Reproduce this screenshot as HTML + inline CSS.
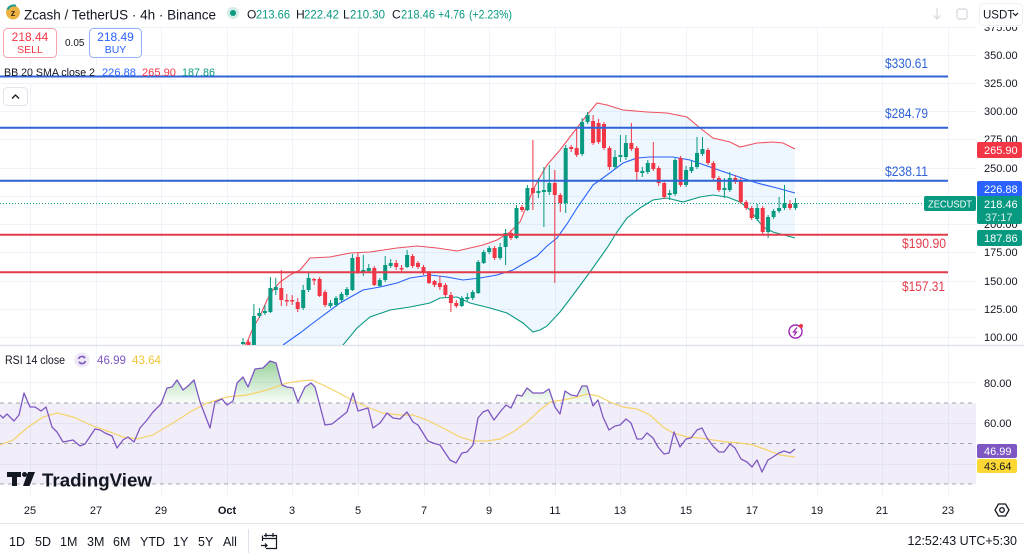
<!DOCTYPE html>
<html><head><meta charset="utf-8"><style>
html,body{margin:0;padding:0;background:#fff;}
svg{display:block;font-family:"Liberation Sans",sans-serif;}
</style></head><body>
<svg width="1024" height="558" viewBox="0 0 1024 558" xmlns="http://www.w3.org/2000/svg">
<defs>
<clipPath id="main"><rect x="0" y="0" width="976" height="345"/></clipPath>
<clipPath id="ob"><rect x="0" y="346" width="976" height="57"/></clipPath>
<linearGradient id="gg" gradientUnits="userSpaceOnUse" x1="0" y1="358" x2="0" y2="403">
<stop offset="0" stop-color="#4caf50" stop-opacity="0.6"/><stop offset="1" stop-color="#4caf50" stop-opacity="0.03"/></linearGradient>
</defs>
<rect width="1024" height="558" fill="#fff"/>

<!-- grid -->
<g stroke="#f0f3fa" stroke-width="1">
<path d="M30.5 26V497M96.5 26V497M161.5 26V497M227.5 26V497M292.5 26V497M358.5 26V497M424.5 26V497M489.5 26V497M555.5 26V497M620.5 26V497M686.5 26V497M752.5 26V497M817.5 26V497M882.5 26V497M948.5 26V497"/>
<path d="M0 27.5H976M0 55.5H976M0 83.5H976M0 111.5H976M0 139.5H976M0 168.5H976M0 196.5H976M0 224.5H976M0 252.5H976M0 281.5H976M0 309.5H976M0 337.5H976M0 382.5H976M0 423.5H976M0 464.5H976"/>
</g>

<!-- RSI band -->
<rect x="0" y="403" width="976" height="81" fill="#7e57c2" fill-opacity="0.1"/>
<g stroke="#a3a6af" stroke-width="1" stroke-dasharray="4 4">
<path d="M0 403H976M0 443.5H976M0 484H976"/>
</g>

<!-- pane separators -->
<path d="M0 345.5H1024" stroke="#e0e3eb" stroke-width="1.5"/>
<path d="M0 523.5H1024" stroke="#e0e3eb" stroke-width="1"/>

<g clip-path="url(#main)">
<polygon fill="#2196f3" fill-opacity="0.08" points="245,345 248,340 253,328 260,316 267,300 273,290 280,282 290,275 300,270 310,258 330,257 350,253 370,252 397,248 417,246 437,248 457,251 470,248 483,245 497,240 510,232 520,222 527,205 533,190 540,177 547,165 560,150 573,133 587,115 597,103 607,105 623,110 647,112 667,113 687,117 700,128 713,138 730,142 740,147 757,143 773,142 783,143 795,149 795,238 773,232 763,227 750,210 740,202 727,197 713,195 700,197 683,202 667,198 653,200 640,208 627,218 617,232 607,248 590,272 573,295 560,312 547,326 540,330 533,332 523,323 507,313 490,308 470,303 457,297 440,298 430,303 410,307 390,310 370,317 357,328 343,345 335,360 245,360"/>
<polyline fill="none" stroke="#f0505f" stroke-width="1.1" points="245,345 248,340 253,328 260,316 267,300 273,290 280,282 290,275 300,270 310,258 330,257 350,253 370,252 397,248 417,246 437,248 457,251 470,248 483,245 497,240 510,232 520,222 527,205 533,190 540,177 547,165 560,150 573,133 587,115 597,103 607,105 623,110 647,112 667,113 687,117 700,128 713,138 730,142 740,147 757,143 773,142 783,143 795,149"/>
<polyline fill="none" stroke="#2962ff" stroke-width="1.1" points="283,345 300,333 313,323 340,303 363,290 380,287 397,283 410,278 430,275 447,277 463,280 480,278 497,275 513,270 530,260 537,256 547,246 557,238 567,224 577,208 593,185 607,175 623,163 637,158 650,157 673,157 690,160 710,167 733,175 757,183 777,188 795,193"/>
<polyline fill="none" stroke="#089981" stroke-width="1.1" points="335,360 343,345 357,328 370,317 390,310 410,307 430,303 440,298 457,297 470,303 490,308 507,313 523,323 533,332 540,330 547,326 560,312 573,295 590,272 607,248 617,232 627,218 640,208 653,200 667,198 683,202 700,197 713,195 727,197 740,202 750,210 763,227 773,232 795,238"/>

<path d="M0 203.5H924" stroke="#089981" stroke-width="1" stroke-dasharray="1 2"/>

<path stroke="#089981" stroke-width="1" fill="none" d="M243 338V345M253.9 304V345M259.4 308V318M264.9 305V315M270.4 277V313M275.8 278V295M303.2 285V310M308.6 272V292M330.5 300V308M336 296V307M341.5 292V302M346.9 287V297M352.4 254V291M363.3 255V276M368.8 264V273M379.8 278V287M385.2 256V282M390.7 259V268M407.1 250V268M461.8 296V307M467.3 293V301M472.7 290V300M478.2 260V294M483.7 250V264M489.2 246V254M500.1 243V260M505.6 229V265M516.5 205V239M527.4 185V211M538.4 178V198M543.9 167V227M549.3 165V195M565.7 145V213M582.1 118V156M587.6 112V124M615 150V169M620.4 135V162M625.9 135V160M642.3 167V177M647.8 160V174M669.7 190V200M675.1 158V196M686.1 166V187M691.5 160V173M697 137V169M702.5 137V156M724.4 178V198M729.8 172V192M757.2 204V221M768.1 215V238M773.6 209V219M779.1 197V213M784.5 185V210M795.5 198V210"/>
<path fill="#089981" d="M241 342h4v2h-4zM251.9 316h4v29h-4zM257.4 313h4v3h-4zM262.9 311h4v2h-4zM268.4 288h4v24h-4zM273.8 287h4v3h-4zM301.2 290h4v18h-4zM306.6 278h4v12h-4zM328.5 303h4v3h-4zM334 298h4v7h-4zM339.5 294h4v6h-4zM344.9 289h4v6h-4zM350.4 258h4v32h-4zM361.3 270h4v3h-4zM366.8 268h4v3h-4zM377.8 280h4v6h-4zM383.2 265h4v15h-4zM388.7 263h4v3h-4zM405.1 255h4v12h-4zM459.8 298h4v8h-4zM465.3 297h4v2h-4zM470.7 292h4v6h-4zM476.2 262h4v31h-4zM481.7 252h4v11h-4zM487.2 248h4v4h-4zM498.1 247h4v11h-4zM503.6 233h4v14h-4zM514.5 208h4v30h-4zM525.4 188h4v22h-4zM536.4 191h4v2h-4zM541.9 190h4v2h-4zM547.3 183h4v9h-4zM563.7 148h4v55h-4zM580.1 122h4v32h-4zM585.6 115h4v7h-4zM613 157h4v10h-4zM618.4 155h4v2h-4zM623.9 143h4v14h-4zM640.3 171h4v2h-4zM645.8 163h4v9h-4zM667.7 193h4v2h-4zM673.1 160h4v34h-4zM684.1 170h4v15h-4zM689.5 167h4v4h-4zM695 153h4v14h-4zM700.5 149h4v5h-4zM722.4 188h4v2h-4zM727.8 178h4v12h-4zM755.2 208h4v11h-4zM766.1 217h4v15h-4zM771.6 211h4v6h-4zM777.1 208h4v3h-4zM782.5 203h4v5h-4zM793.5 203h4v5h-4z"/>
<path stroke="#f23645" stroke-width="1" fill="none" d="M248.5 340V345M281.3 270V306M286.8 294V306M292.2 295V305M297.7 298V312M314.1 278V285M319.6 277V297M325.1 290V307M357.9 253V274M374.3 266V286M396.2 260V270M401.6 265V272M412.6 254V268M418 261V269M423.5 265V275M429 271V284M434.5 280V287M439.9 276V290M445.4 283V297M450.9 292V312M456.3 300V308M494.6 246V260M511 230V240M522 205V212M532.9 140V210M554.8 170V283M560.3 193V212M571.2 145V152M576.7 127V157M593.1 115V145M598.6 119V144M604 122V150M609.5 146V170M631.4 123V151M636.8 146V180M653.3 142V171M658.7 166V186M664.2 181V199M680.6 156V187M708 148V165M713.4 161V180M718.9 176V192M735.3 175V184M740.8 178V204M746.2 200V210M751.7 206V220M762.7 206V234M790 200V210"/>
<path fill="#f23645" d="M246.5 342h4v3h-4zM279.3 288h4v12h-4zM284.8 300h4v1.5h-4zM290.2 300h4v1.5h-4zM295.7 302h4v7h-4zM312.1 279h4v1.5h-4zM317.6 279h4v17h-4zM323.1 292h4v13h-4zM355.9 257h4v16h-4zM372.3 268h4v17h-4zM394.2 263h4v4h-4zM399.6 268h4v1.5h-4zM410.6 256h4v10h-4zM416 263h4v4h-4zM421.5 267h4v6h-4zM427 273h4v10h-4zM432.5 281h4v4h-4zM437.9 283h4v4h-4zM443.4 285h4v10h-4zM448.9 295h4v8h-4zM454.3 303h4v3h-4zM492.6 248h4v10h-4zM509 233h4v5h-4zM520 207h4v3h-4zM530.9 188h4v5h-4zM552.8 183h4v12h-4zM558.3 195h4v8h-4zM569.2 147h4v2h-4zM574.7 148h4v7h-4zM591.1 121h4v22h-4zM596.6 123h4v19h-4zM602 124h4v24h-4zM607.5 148h4v19h-4zM629.4 143h4v6h-4zM634.8 148h4v24h-4zM651.3 163h4v6h-4zM656.7 168h4v15h-4zM662.2 183h4v14h-4zM678.6 158h4v27h-4zM706 150h4v13h-4zM711.4 163h4v15h-4zM716.9 178h4v12h-4zM733.3 178h4v4h-4zM738.8 180h4v22h-4zM744.2 202h4v6h-4zM749.7 208h4v10h-4zM760.7 208h4v24h-4zM788 204h4v4h-4z"/>
</g>

<rect x="0" y="66" width="218" height="17" fill="#fff" fill-opacity="0.7"/>

<g stroke-width="2" fill="none">
<path d="M0 76.5H948M0 127.8H948M0 180.8H948" stroke="#2f63d6"/>
<path d="M0 234.8H948M0 272.3H948" stroke="#e23b4b"/>
</g>
<g font-size="13.5">
<text x="885" y="68" fill="#2f63d6" textLength="43" lengthAdjust="spacingAndGlyphs">$330.61</text>
<text x="885" y="118" fill="#2f63d6" textLength="43" lengthAdjust="spacingAndGlyphs">$284.79</text>
<text x="885" y="176" fill="#2f63d6" textLength="43" lengthAdjust="spacingAndGlyphs">$238.11</text>
<text x="902" y="248" fill="#e23b4b" textLength="44" lengthAdjust="spacingAndGlyphs">$190.90</text>
<text x="902" y="291" fill="#e23b4b" textLength="43" lengthAdjust="spacingAndGlyphs">$157.31</text>
</g>

<circle cx="795.5" cy="331.5" r="6.5" fill="#fff" stroke="#9c27b0" stroke-width="1.4"/>
<path d="M797 327.5L793.5 332H796.5L794 335.5" fill="none" stroke="#9c27b0" stroke-width="1.3"/>
<circle cx="801" cy="326" r="2" fill="#f23645"/>

<polygon clip-path="url(#ob)" fill="url(#gg)" points="0,403 0,415 3,418 7,414 14,421 19,415 24,393 30,407 35,407 41,411 46,407 52,427 57,432 63,442 68,441 73,440 80,446 85,444 95,429 100,430 105,433 112,436 117,448 123,440 128,437 134,442 140,428 147,420 153,412 161,404 167,388 172,387 177,380 183,390 188,386 194,380 200,402 205,415 210,428 215,402 222,399 227,405 233,401 237,383 243,377 248,387 255,369 263,368 270,361 276,363 282,385 287,387 293,388 298,402 305,387 311,383 315,387 325,425 332,424 337,420 347,412 353,393 358,411 368,408 373,428 380,423 387,413 393,418 400,419 407,412 413,422 418,425 428,441 433,443 440,445 450,460 456,463 462,453 467,452 473,445 478,418 483,412 488,410 494,420 500,412 506,405 511,408 517,395 522,396 527,388 533,393 543,393 549,389 555,407 560,414 565,391 571,395 577,396 582,386 587,386 593,406 598,400 603,417 609,430 615,426 620,425 626,419 631,423 637,439 642,439 647,433 653,438 658,447 664,454 669,453 674,432 680,447 686,439 691,438 697,430 702,428 707,438 713,446 719,452 724,452 730,444 735,448 741,459 747,462 752,467 757,460 762,472 768,460 773,457 779,453 784,451 790,453 795,449 795,403"/>
<polyline fill="none" stroke="#f5d36b" stroke-width="1.2" points="0,445 13,440 27,428 43,417 57,413 73,417 93,426 110,432 123,437 137,439 153,435 173,423 190,412 207,403 227,397 247,395 267,390 287,383 300,381 312,380 323,385 337,392 350,399 367,407 383,413 400,415 413,415 427,420 443,428 460,437 473,441 487,441 500,439 513,432 527,422 540,410 550,402 563,400 577,397 587,394 598,396 610,402 623,407 637,409 650,415 663,427 673,433 687,437 700,438 713,440 727,442 740,443 753,445 767,450 780,455 795,457"/>
<polyline fill="none" stroke="#7e57c2" stroke-width="1.3" stroke-linejoin="round" points="0,415 3,418 7,414 14,421 19,415 24,393 30,407 35,407 41,411 46,407 52,427 57,432 63,442 68,441 73,440 80,446 85,444 95,429 100,430 105,433 112,436 117,448 123,440 128,437 134,442 140,428 147,420 153,412 161,404 167,388 172,387 177,380 183,390 188,386 194,380 200,402 205,415 210,428 215,402 222,399 227,405 233,401 237,383 243,377 248,387 255,369 263,368 270,361 276,363 282,385 287,387 293,388 298,402 305,387 311,383 315,387 325,425 332,424 337,420 347,412 353,393 358,411 368,408 373,428 380,423 387,413 393,418 400,419 407,412 413,422 418,425 428,441 433,443 440,445 450,460 456,463 462,453 467,452 473,445 478,418 483,412 488,410 494,420 500,412 506,405 511,408 517,395 522,396 527,388 533,393 543,393 549,389 555,407 560,414 565,391 571,395 577,396 582,386 587,386 593,406 598,400 603,417 609,430 615,426 620,425 626,419 631,423 637,439 642,439 647,433 653,438 658,447 664,454 669,453 674,432 680,447 686,439 691,438 697,430 702,428 707,438 713,446 719,452 724,452 730,444 735,448 741,459 747,462 752,467 757,460 762,472 768,460 773,457 779,453 784,451 790,453 795,449"/>

<circle cx="13" cy="12.5" r="7" fill="#ecb244"/>
<path d="M7.5 9.5A7 7 0 0 1 16 5.8" fill="none" stroke="#2a9d8f" stroke-width="2.2"/>
<text x="13" y="16" font-size="9" font-weight="bold" fill="#3a2a10" text-anchor="middle">z</text>
<text x="24" y="19.5" font-size="14" fill="#131722" textLength="192" lengthAdjust="spacingAndGlyphs">Zcash / TetherUS · 4h · Binance</text>
<circle cx="233" cy="13" r="6" fill="#089981" fill-opacity="0.18"/>
<circle cx="233" cy="13" r="3" fill="#089981"/>
<g font-size="12">
<text x="247" y="18.5" fill="#131722">O</text><text x="256" y="18.5" fill="#089981" textLength="34" lengthAdjust="spacingAndGlyphs">213.66</text>
<text x="296" y="18.5" fill="#131722">H</text><text x="304" y="18.5" fill="#089981" textLength="35" lengthAdjust="spacingAndGlyphs">222.42</text>
<text x="343" y="18.5" fill="#131722">L</text><text x="350" y="18.5" fill="#089981" textLength="35" lengthAdjust="spacingAndGlyphs">210.30</text>
<text x="392" y="18.5" fill="#131722">C</text><text x="401" y="18.5" fill="#089981" textLength="34" lengthAdjust="spacingAndGlyphs">218.46</text>
<text x="438" y="18.5" fill="#089981" textLength="27" lengthAdjust="spacingAndGlyphs">+4.76</text>
<text x="469" y="18.5" fill="#089981" textLength="43" lengthAdjust="spacingAndGlyphs">(+2.23%)</text>
</g>
<rect x="3.5" y="28.5" width="53" height="29" rx="4" fill="#fff" stroke="#f7a3ab"/>
<text x="30" y="41" font-size="12" fill="#f23645" text-anchor="middle">218.44</text>
<text x="30" y="53" font-size="10.5" fill="#f23645" text-anchor="middle">SELL</text>
<text x="65" y="46" font-size="10" fill="#131722">0.05</text>
<rect x="89.5" y="28.5" width="52" height="29" rx="4" fill="#fff" stroke="#98b2f7"/>
<text x="115.5" y="41" font-size="12" fill="#2962ff" text-anchor="middle">218.49</text>
<text x="115.5" y="53" font-size="10.5" fill="#2962ff" text-anchor="middle">BUY</text>
<text x="4" y="76" font-size="11" fill="#131722" textLength="91" lengthAdjust="spacingAndGlyphs">BB 20 SMA close 2</text>
<text x="102" y="76" font-size="11" fill="#2962ff" textLength="34" lengthAdjust="spacingAndGlyphs">226.88</text>
<text x="142" y="76" font-size="11" fill="#f23645" textLength="34" lengthAdjust="spacingAndGlyphs">265.90</text>
<text x="182" y="76" font-size="11" fill="#089981" textLength="33" lengthAdjust="spacingAndGlyphs">187.86</text>
<rect x="3.5" y="87.5" width="24" height="18" rx="4" fill="#fff" stroke="#e0e3eb"/>
<path d="M12 98.5L15.5 95L19 98.5" fill="none" stroke="#131722" stroke-width="1.3"/>

<text x="5" y="364" font-size="11.5" fill="#131722" textLength="60" lengthAdjust="spacingAndGlyphs">RSI 14 close</text>
<circle cx="82" cy="360" r="7.5" fill="#ede7f6"/>
<path d="M78.5 359A3.6 3.6 0 0 1 85 358.2M85.5 361A3.6 3.6 0 0 1 79 361.8" fill="none" stroke="#7e57c2" stroke-width="1.6"/>
<text x="97" y="364" font-size="11.5" fill="#7e57c2" textLength="29" lengthAdjust="spacingAndGlyphs">46.99</text>
<text x="132" y="364" font-size="11.5" fill="#f0c437" textLength="29" lengthAdjust="spacingAndGlyphs">43.64</text>

<path d="M7 472H21V477H17V486H12V477H7Z" fill="#131722"/>
<circle cx="24.5" cy="474.5" r="2.5" fill="#131722"/>
<path d="M28 472H35L29.5 486H23Z" fill="#131722"/>
<text x="42" y="486.5" font-size="18.5" font-weight="bold" fill="#131722" textLength="110" lengthAdjust="spacingAndGlyphs">TradingView</text>

<g font-size="11" fill="#131722">
<text x="984" y="31">375.00</text>
<text x="984" y="59">350.00</text>
<text x="984" y="87">325.00</text>
<text x="984" y="115">300.00</text>
<text x="984" y="143">275.00</text>
<text x="984" y="172">250.00</text>
<text x="984" y="228">200.00</text>
<text x="984" y="256">175.00</text>
<text x="984" y="285">150.00</text>
<text x="984" y="313">125.00</text>
<text x="984" y="341">100.00</text>
<text x="984" y="387">80.00</text>
<text x="984" y="427">60.00</text>
</g>
<rect x="978" y="0" width="46" height="27" fill="#fff"/>
<rect x="979.5" y="3.5" width="43" height="22" rx="4" fill="#fff" stroke="#eceef2"/>
<text x="983" y="18.5" font-size="11.5" fill="#131722">USDT</text>
<path d="M1013 13l2.5 2.5l2.5-2.5" fill="none" stroke="#131722" stroke-width="1.2"/>
<path d="M937 8V19M933.5 15.5L937 19L940.5 15.5" fill="none" stroke="#d6d8de" stroke-width="1.2"/>
<rect x="957" y="9" width="10" height="10" rx="2" fill="none" stroke="#d6d8de" stroke-width="1.2"/>

<rect x="977" y="142" width="45" height="16" rx="2" fill="#f23645"/>
<text x="984" y="154" font-size="11" fill="#fff">265.90</text>
<rect x="977" y="181" width="45" height="16" rx="2" fill="#2962ff"/>
<text x="984" y="193" font-size="11" fill="#fff">226.88</text>
<rect x="977" y="196" width="45" height="28" rx="2" fill="#089981"/>
<text x="984" y="208" font-size="11" fill="#fff">218.46</text>
<text x="985" y="221" font-size="11" fill="#d8f0ea">37:17</text>
<rect x="924" y="196" width="52" height="15" rx="2" fill="#089981"/>
<text x="928" y="207.5" font-size="10.5" fill="#fff" textLength="44" lengthAdjust="spacingAndGlyphs">ZECUSDT</text>
<rect x="977" y="230" width="45" height="16" rx="2" fill="#089981"/>
<text x="984" y="242" font-size="11" fill="#fff">187.86</text>
<rect x="977" y="444" width="40" height="14" rx="2" fill="#7e57c2"/>
<text x="984" y="455" font-size="11" fill="#fff">46.99</text>
<rect x="977" y="459" width="40" height="14" rx="2" fill="#fdd835"/>
<text x="984" y="470" font-size="11" fill="#131722">43.64</text>

<g font-size="11" fill="#131722" text-anchor="middle">
<text x="30" y="514">25</text>
<text x="96" y="514">27</text>
<text x="161" y="514">29</text>
<text x="227" y="514" font-weight="bold">Oct</text>
<text x="292" y="514">3</text>
<text x="358" y="514">5</text>
<text x="424" y="514">7</text>
<text x="489" y="514">9</text>
<text x="555" y="514">11</text>
<text x="620" y="514">13</text>
<text x="686" y="514">15</text>
<text x="752" y="514">17</text>
<text x="817" y="514">19</text>
<text x="882" y="514">21</text>
<text x="948" y="514">23</text>
</g>
<path d="M1009 510L1005.5 516H998.5L995 510L998.5 504H1005.5Z" fill="none" stroke="#131722" stroke-width="1.3"/>
<circle cx="1002" cy="510" r="2.3" fill="none" stroke="#131722" stroke-width="1.3"/>

<g font-size="12.5" fill="#131722">
<text x="9" y="546">1D</text>
<text x="35" y="546">5D</text>
<text x="60" y="546">1M</text>
<text x="87" y="546">3M</text>
<text x="113" y="546">6M</text>
<text x="140" y="546">YTD</text>
<text x="173" y="546">1Y</text>
<text x="198" y="546">5Y</text>
<text x="223" y="546">All</text>
<text x="1017" y="545" text-anchor="end">12:52:43 UTC+5:30</text>
</g>
<path d="M248.5 529V553" stroke="#e0e3eb"/>
<path d="M264 535.5H276.5V548.5H266M262.5 535.5V541M262.5 538.5H276.5M266 533V537M273 533V537M261 545.5H267M265 543.5L267 545.5L265 547.5" fill="none" stroke="#131722" stroke-width="1.2"/>
</svg>
</body></html>
